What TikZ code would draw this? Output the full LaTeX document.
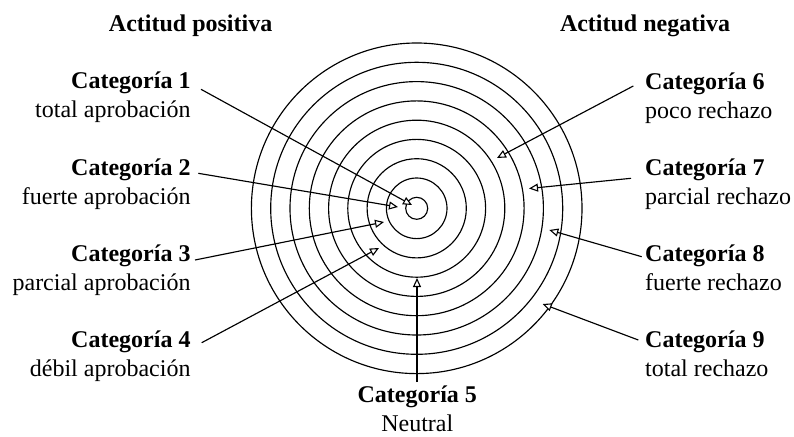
\documentclass[tikz,border=0pt]{standalone}
\usepackage{fontspec}
\setmainfont{Liberation Serif}
\usetikzlibrary{arrows.meta}
\begin{document}
\begin{tikzpicture}[x=1pt,y=-1pt,
  ring/.style={line width=1.15pt},
  pointer/.style={line width=1.15pt,-{Triangle[length=9pt,width=8pt,fill=white,line width=1.1pt]}},
  lab/.style={inner sep=0pt,font=\fontsize{24}{29}\selectfont},
  labb/.style={lab,font=\fontsize{24}{29}\selectfont\bfseries}]
\useasboundingbox (0,0) rectangle (794,436);
\coordinate (O) at (416.7,208.3);
\foreach \r in {11,30.3,49.6,68.9,88.1,107.4,126.7,146,165.3}
  \draw[ring] (O) circle[radius=\r];
% headings
\node[labb,anchor=base] (hp) at (190.6,31.7) {Actitud positiva};
\node[labb,anchor=base] (hn) at (645,31.7) {Actitud negativa};
% left labels
\node[labb,anchor=base east] (c1) at (190.7,88.3) {Categoría 1};
\node[lab,anchor=base east] (c1b) at (190.7,117.3) {total aprobación};
\node[labb,anchor=base east] (c2) at (190.7,175) {Categoría 2};
\node[lab,anchor=base east] (c2b) at (190.7,204) {fuerte aprobación};
\node[labb,anchor=base east] (c3) at (190.7,261.7) {Categoría 3};
\node[lab,anchor=base east] (c3b) at (190.7,290.7) {parcial aprobación};
\node[labb,anchor=base east] (c4) at (190.7,347.3) {Categoría 4};
\node[lab,anchor=base east] (c4b) at (190.7,376.3) {débil aprobación};
% right labels
\node[labb,anchor=base west] (c6) at (645,89.3) {Categoría 6};
\node[lab,anchor=base west] (c6b) at (645,118.3) {poco rechazo};
\node[labb,anchor=base west] (c7) at (645,175) {Categoría 7};
\node[lab,anchor=base west] (c7b) at (645,204) {parcial rechazo};
\node[labb,anchor=base west] (c8) at (645,261.7) {Categoría 8};
\node[lab,anchor=base west] (c8b) at (645,290.7) {fuerte rechazo};
\node[labb,anchor=base west] (c9) at (645,347.3) {Categoría 9};
\node[lab,anchor=base west] (c9b) at (645,376.3) {total rechazo};
% bottom label
\node[labb,anchor=base] (c5) at (417.3,402.7) {Categoría 5};
\node[lab,anchor=base] (c5b) at (417.3,431.7) {Neutral};
% connector ends
\coordinate (s1) at (201,89.3);   \coordinate (t1) at (412,205);
\coordinate (s2) at (198.3,173.3); \coordinate (t2) at (398,207);
\coordinate (s3) at (195,260);    \coordinate (t3) at (384,222);
\coordinate (s4) at (201.7,342.7); \coordinate (t4) at (379,248);
\coordinate (s5) at (417,382);    \coordinate (t5) at (417,278);
\coordinate (s6) at (633.3,86);   \coordinate (t6) at (497,158);
\coordinate (s7) at (631,178.3);  \coordinate (t7) at (529,188.5);
\coordinate (s8) at (641.7,256.7); \coordinate (t8) at (549.3,230);
\coordinate (s9) at (638.3,340);  \coordinate (t9) at (542.7,304);
\foreach \i in {1,...,9}
  \draw[pointer] (s\i) -- (t\i);
\end{tikzpicture}
\end{document}
